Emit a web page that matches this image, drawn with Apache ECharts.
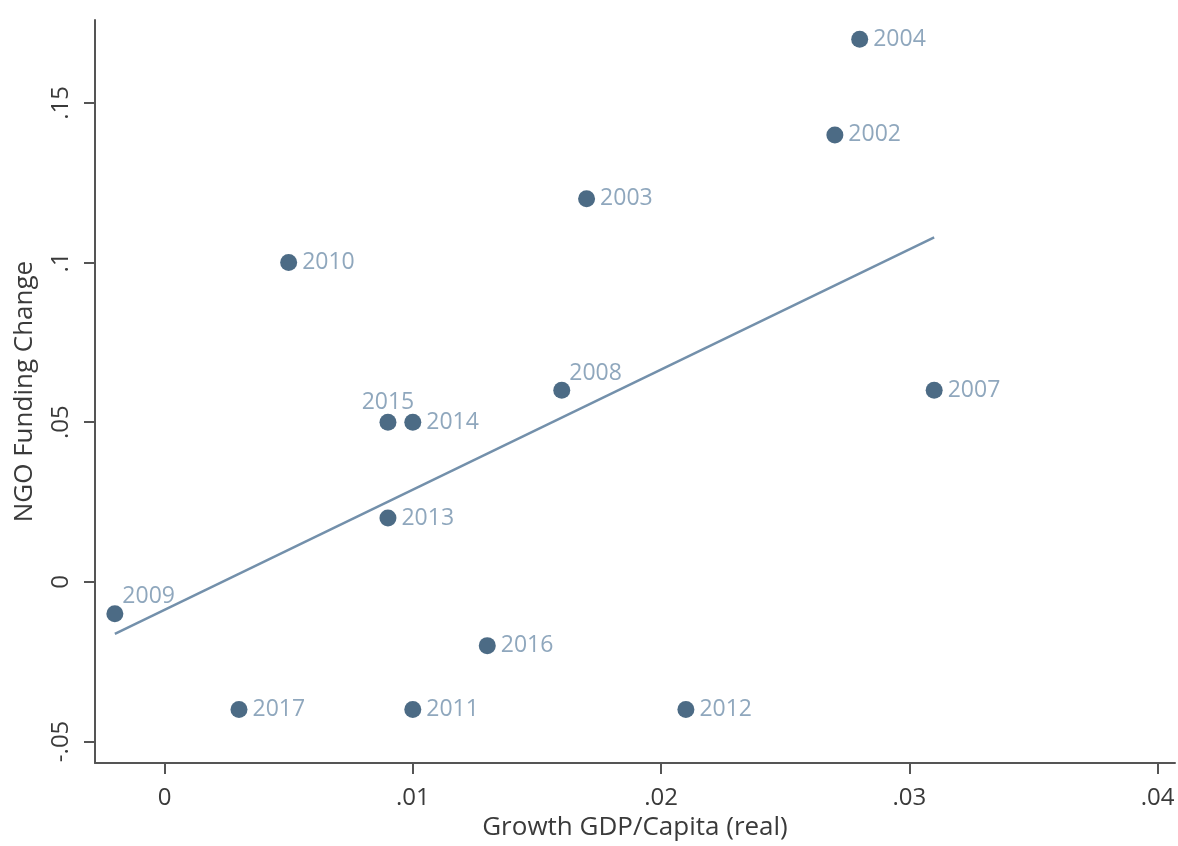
<!DOCTYPE html>
<html>
<head>
<meta charset="utf-8">
<script src="https://cdn.jsdelivr.net/npm/echarts@6/dist/echarts.min.js"></script>
<style>
  html, body { margin: 0; padding: 0; background: #ffffff; }
  #chart { width: 1178px; height: 846px; }
</style>
</head>
<body>
<div id="chart"></div>
<script>
// ---- data ----
const years      = ['2004', '2002', '2003', '2010', '2008', '2007', '2015', '2014', '2013', '2009', '2016', '2017', '2011', '2012'];
const gdpGrowth  = [0.028, 0.027, 0.017, 0.005, 0.016, 0.031, 0.009, 0.010, 0.009, -0.002, 0.013, 0.003, 0.010, 0.021];
const ngoChange  = [0.17, 0.14, 0.12, 0.10, 0.06, 0.06, 0.05, 0.05, 0.02, -0.01, -0.02, -0.04, -0.04, -0.04];
const fitX       = [-0.002, 0.031];
const fitY       = [-0.0163, 0.1079];
const xTickValues = [0, 0.01, 0.02, 0.03, 0.04];
const xTickLabels = ['0', '.01', '.02', '.03', '.04'];
const yTickValues = [-0.05, 0, 0.05, 0.10, 0.15];
const yTickLabels = ['-.05', '0', '.05', '.1', '.15'];

// ---- styling ----
const FONT = 'Open Sans';
const markerColor = '#1f4666';
const yearLabelColor = '#7391ac';
const fitColor = '#7390ab';
const axisColor = '#555555';
const tickTextColor = '#3a3a3a';
// label placement overrides (style only)
const labelPlacement = { '2008': 'upRight', '2009': 'upRight', '2015': 'above' };

function labelFor(year) {
  const base = { show: true, formatter: year, color: yearLabelColor, fontFamily: FONT, fontSize: 23 };
  const p = labelPlacement[year];
  if (p === 'upRight') return Object.assign(base, { position: 'right', distance: 5, offset: [-6, -17] });
  if (p === 'above') return Object.assign(base, { position: 'top', distance: 0 });
  return Object.assign(base, { position: 'right', distance: 5 });
}

const scatterData = years.map((y, i) => ({ value: [gdpGrowth[i], ngoChange[i]], label: labelFor(y) }));
const fitData = fitX.map((x, i) => [x, fitY[i]]);

function labelOf(values, labels) {
  return function (v) {
    for (let i = 0; i < values.length; i++) if (Math.abs(values[i] - v) < 1e-9) return labels[i];
    return '';
  };
}

const chart = echarts.init(document.getElementById('chart'), null, { renderer: 'canvas' });
chart.setOption({
  animation: false,
  backgroundColor: '#ffffff',
  grid: { left: 95, right: 3, top: 20, bottom: 81, containLabel: false },
  xAxis: {
    type: 'value',
    min: -0.0028,
    max: 0.0407,
    name: 'Growth GDP/Capita (real)',
    nameLocation: 'middle',
    nameGap: 48,
    nameTextStyle: { fontFamily: FONT, fontSize: 26, color: tickTextColor },
    axisLine: { show: true, onZero: false, lineStyle: { color: axisColor, width: 2 } },
    axisTick: { show: true, length: 11, customValues: xTickValues, lineStyle: { color: axisColor, width: 2 } },
    axisLabel: { customValues: xTickValues, formatter: labelOf(xTickValues, xTickLabels), margin: 23, fontFamily: FONT, fontSize: 24, color: tickTextColor },
    splitLine: { show: false }
  },
  yAxis: {
    type: 'value',
    min: -0.0568,
    max: 0.176,
    name: 'NGO Funding Change',
    nameLocation: 'middle',
    nameGap: 57,
    nameTextStyle: { fontFamily: FONT, fontSize: 26, color: tickTextColor },
    axisLine: { show: true, onZero: false, lineStyle: { color: axisColor, width: 2 } },
    axisTick: { show: true, length: 11, customValues: yTickValues, lineStyle: { color: axisColor, width: 2 } },
    axisLabel: { customValues: yTickValues, formatter: labelOf(yTickValues, yTickLabels), rotate: 90, margin: 22, fontFamily: FONT, fontSize: 24, color: tickTextColor },
    splitLine: { show: false }
  },
  series: [
    {
      type: 'line',
      data: fitData,
      symbol: 'none',
      lineStyle: { color: fitColor, width: 2.5 },
      silent: true,
      z: 1
    },
    {
      type: 'scatter',
      data: scatterData,
      symbol: 'circle',
      symbolSize: 17,
      itemStyle: { color: markerColor },
      z: 2
    }
  ]
});
</script>
</body>
</html>
